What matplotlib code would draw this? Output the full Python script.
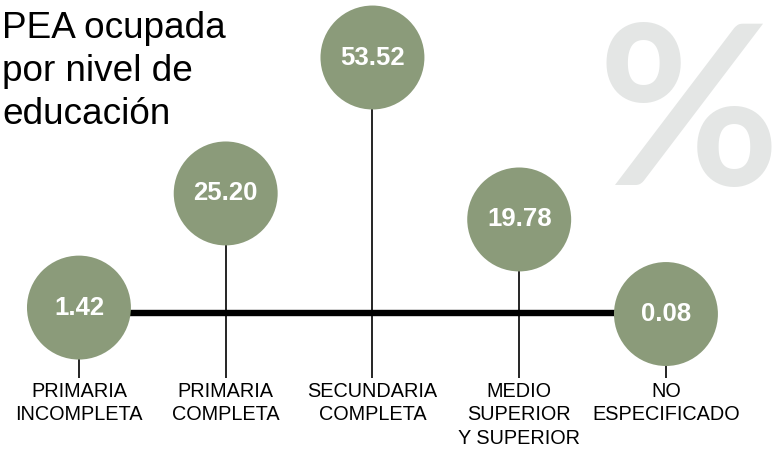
import matplotlib
matplotlib.use("Agg")
import matplotlib.pyplot as plt

categories = ["PRIMARIA\nINCOMPLETA", "PRIMARIA\nCOMPLETA", "SECUNDARIA\nCOMPLETA",
              "MEDIO\nSUPERIOR\nY SUPERIOR", "NO\nESPECIFICADO"]
values = [1.42, 25.20, 53.52, 19.78, 0.08]
value_labels = ["1.42", "25.20", "53.52", "19.78", "0.08"]
title = "PEA ocupada\npor nivel de\neducación"

GREEN = "#8b9b7a"
GRAY = "#e4e6e5"
FONT = ["Liberation Sans", "DejaVu Sans"]

fig = plt.figure(figsize=(7.81, 4.49), dpi=100)
ax = fig.add_axes([0, 0, 1, 1])
ax.set_xlim(-0.538, 4.784)
ax.set_ylim(-28.04, 65.5)
ax.axis("off")

# decorative percent sign
fig.text(598 / 781, 1 - 185 / 449, "%", ha="left", va="baseline",
         fontsize=160, fontweight="bold", color=GRAY, family=["Lato", "DejaVu Sans"], zorder=0)

x = list(range(len(categories)))
# baseline
ax.plot([x[0], x[-1]], [0.2, 0.2], color="black", lw=4.6, solid_capstyle="butt", zorder=2)
# stems
ax.vlines(x, -13.3, values, color="black", lw=1.2, zorder=1)
# bubbles
ax.scatter(x, values, s=5600, color=GREEN, edgecolors="none", zorder=3)
for xi, v, lab in zip(x, values, value_labels):
    ax.text(xi, v, lab, ha="center", va="center", color="white", fontsize=18.5,
            fontweight="bold", family=FONT, zorder=4)
for xi, c in zip(x, categories):
    ax.text(xi, -14.0, c, ha="center", va="top", fontsize=14.3, family=FONT,
            linespacing=1.3, zorder=4)

fig.text(0.003, 0.975, title, ha="left", va="top", fontsize=26.6, family=FONT,
         linespacing=1.3)

fig.savefig("out.png", dpi=100)
